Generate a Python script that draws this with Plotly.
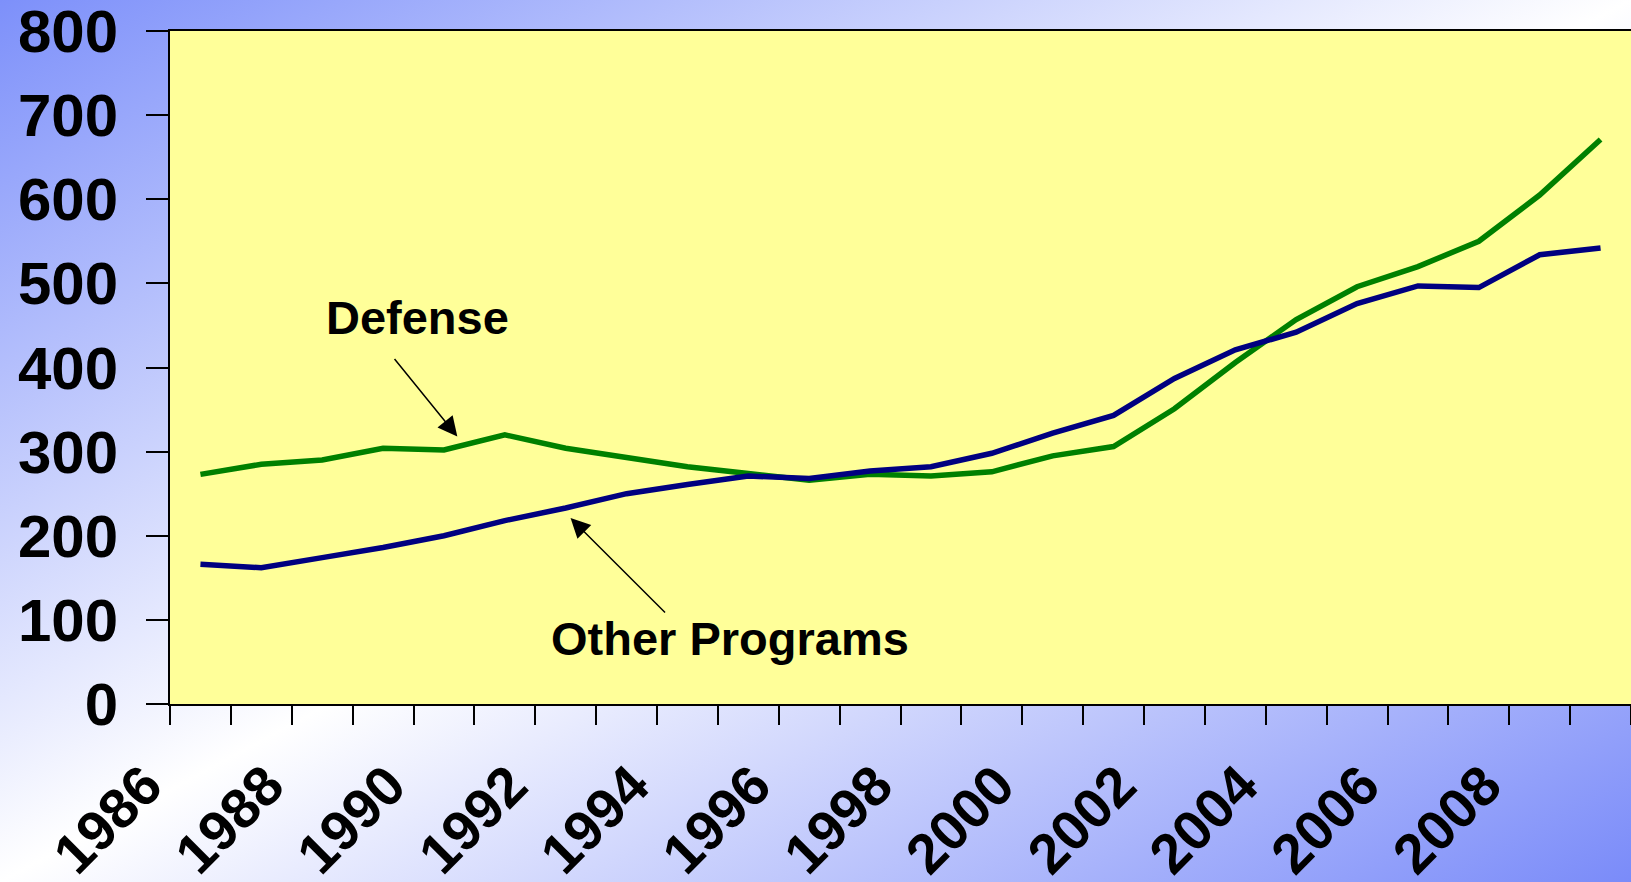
import base64
import plotly.graph_objects as go

years = list(range(1986, 2010))
defense = [273, 285, 290, 304, 302, 320, 304, 293, 282, 274, 266, 273, 271, 276,
           295, 306, 351, 406, 457, 496, 520, 550, 605, 671]
other_programs = [166, 162, 174, 186, 200, 218, 233, 250, 261, 271, 268, 277, 282, 298,
                  322, 343, 387, 421, 442, 476, 497, 495, 534, 542]
label_years = list(range(1986, 2010, 2))
y_ticks = list(range(0, 801, 100))

W, H = 1631, 882
ML, MR, MT, MB = 170, 0, 31, 178
PW, PH = W - ML - MR, H - MT - MB

svg = (
    "<svg xmlns='http://www.w3.org/2000/svg' width='1631' height='882' "
    "viewBox='0 0 1631 882' preserveAspectRatio='none'>"
    "<defs><linearGradient id='g' x1='0' y1='0' x2='1' y2='1'>"
    "<stop offset='0' stop-color='#7d90fa'/>"
    "<stop offset='0.5' stop-color='#ffffff'/>"
    "<stop offset='1' stop-color='#7a8bf9'/>"
    "</linearGradient></defs>"
    "<rect width='1631' height='882' fill='url(#g)'/></svg>"
)
bg_src = "data:image/svg+xml;base64," + base64.b64encode(svg.encode()).decode()

FONT = "Liberation Sans, Arial, sans-serif"

fig = go.Figure()
fig.add_trace(go.Scatter(x=years, y=defense, mode="lines", name="Defense",
                         line=dict(color="#008000", width=5.5)))
fig.add_trace(go.Scatter(x=years, y=other_programs, mode="lines", name="Other Programs",
                         line=dict(color="#000080", width=5.5)))

fig.update_layout(
    width=W, height=H,
    margin=dict(l=ML, r=MR, t=MT, b=MB, pad=0, autoexpand=False),
    paper_bgcolor="white",
    plot_bgcolor="rgba(0,0,0,0)",
    showlegend=False,
    images=[dict(source=bg_src, xref="paper", yref="paper",
                 x=-ML / PW, y=1 + MT / PH, sizex=W / PW, sizey=H / PH,
                 xanchor="left", yanchor="top", sizing="stretch", layer="below")],
    shapes=[dict(type="rect", xref="paper", yref="paper", x0=0, x1=1, y0=0, y1=1,
                 fillcolor="#FFFF99", line=dict(width=0), layer="below")],
)

fig.update_xaxes(
    range=[1985.5, 2009.5], automargin=False,
    showgrid=False, zeroline=False,
    showline=True, linecolor="black", linewidth=2, mirror=True,
    tickmode="array", tickvals=label_years, ticktext=[str(y) for y in label_years],
    ticks="", tickangle=-45,
    tickfont=dict(family=FONT, size=56, color="black", weight="bold"),
    ticklabelshift=-55, ticklabelstandoff=24, ticklabeloverflow="allow",
    minor=dict(tickmode="array", tickvals=[y - 0.5 for y in years] + [2009.5],
               ticks="outside", ticklen=19, tickwidth=2, tickcolor="black",
               showgrid=False),
)
fig.update_yaxes(
    range=[0, 800], automargin=False,
    showgrid=False, zeroline=False,
    showline=True, linecolor="black", linewidth=2,
    tickmode="array", tickvals=y_ticks,
    ticks="outside", ticklen=22, tickwidth=2, tickcolor="black",
    tickfont=dict(family=FONT, size=60, color="black", weight="bold"),
    ticklabelstandoff=16, ticklabeloverflow="allow",
)

ann_font = dict(family=FONT, size=47, color="black", weight="bold")
fig.add_annotation(x=1989.57, y=459, text="Defense", showarrow=False, font=ann_font)
fig.add_annotation(x=1994.7, y=78, text="Other Programs", showarrow=False, font=ann_font)
fig.add_annotation(x=1990.22, y=318, text="", showarrow=True, ax=-64, ay=-79,
                   arrowhead=2, arrowsize=2.6, arrowwidth=1.5, arrowcolor="black")
fig.add_annotation(x=1992.08, y=221, text="", showarrow=True, ax=96, ay=96,
                   arrowhead=2, arrowsize=2.6, arrowwidth=1.5, arrowcolor="black")

fig.write_html("out.html", config={"displayModeBar": False},
               post_script="document.body.style.margin='0';document.body.style.overflow='hidden';")
